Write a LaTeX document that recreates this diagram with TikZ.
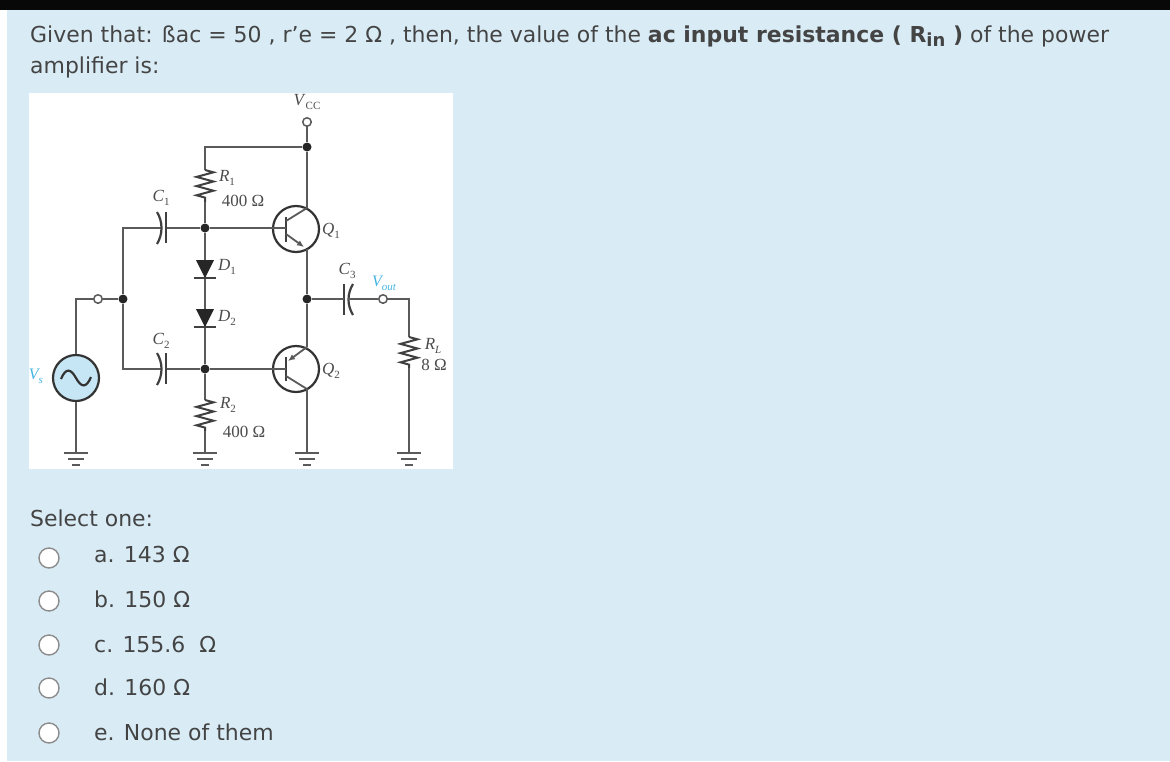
\documentclass[tikz,border=0pt]{standalone}
\usepackage{fontspec}
\setmainfont{DejaVu Sans}
\newfontfamily\cirfont{Liberation Serif}
\usetikzlibrary{arrows.meta,decorations.pathmorphing}
\definecolor{pagebg}{HTML}{D9ECF6}
\definecolor{txtgray}{HTML}{444444}
\definecolor{wiregray}{HTML}{5A5A5A}
\definecolor{srcblue}{HTML}{C6E5F5}
\definecolor{lblblue}{HTML}{45B4E0}
\newcommand\lowsub[1]{\raisebox{-.25em}{\fontsize{11}{12}\selectfont #1}}
\tikzset{
	wire/.style={draw=wiregray,line width=1.8pt},
	heavy/.style={draw=black!75,line width=2.2pt},
	resistor/.style={draw=black!75,line width=2pt,decorate,decoration={zigzag,segment length=9.2pt,amplitude=8.5pt}},
	dotnode/.style={circle,fill=black!85,inner sep=0pt,minimum size=9pt},
	opennode/.style={circle,draw=wiregray,fill=white,line width=1.5pt,inner sep=0pt,minimum size=8.5pt},
	trans/.style={circle,draw=black!80,line width=2.2pt,inner sep=0pt,minimum size=46pt},
	radio/.style={circle,draw=black!45,fill=white,line width=1.4pt,inner sep=0pt,minimum size=20pt},
	txt/.style={anchor=base west,text=txtgray,font=\fontsize{21.95}{26}\selectfont,inner sep=0pt},
	lab/.style={text=black!70,font=\fontsize{17}{20}\selectfont\cirfont,inner sep=0pt},
	vlab/.style={text=lblblue,font=\fontsize{16}{18}\selectfont\cirfont\itshape,inner sep=0pt},
	grnd/.pic={\draw[wire,line width=2.2pt] (-12,0) -- (12,0) (-8,6) -- (8,6) (-4,12) -- (4,12);},
	diode/.pic={\fill[black!85] (-9,-9) -- (9,-9) -- (0,9) -- cycle; \draw[heavy] (-11,9) -- (11,9);}
}
\begin{document}
\begin{tikzpicture}[x=1pt,y=-1pt]
	% page
	\fill [white] ( 0, 0 ) rectangle ( 1170, 761 );
	\fill [pagebg] ( 6.5, 10 ) rectangle ( 1170, 761 );
	\fill [black!97] ( 0, 0 ) rectangle ( 1170, 10 );
	\fill [white] ( 29, 93 ) rectangle ( 453, 469 );

	% question
	\node [txt] (line1) at ( 30, 42 ) {Given that: ßac = 50 , r'e = 2 Ω , then, the value of the \textbf{ac input resistance ( R\raisebox{-4pt}{\fontsize{18}{20}\selectfont in} )} of the power};
	\node [txt] (line2) at ( 30, 73 ) {amplifier is:};

	% junctions
	\node [dotnode] (top) at ( 307, 147 ) {};
	\node [dotnode] (base1) at ( 205, 228 ) {};
	\node [dotnode] (base2) at ( 205, 369 ) {};
	\node [dotnode] (in) at ( 123, 299 ) {};
	\node [dotnode] (out) at ( 307, 299 ) {};
	\node [opennode] (vcc) at ( 307, 122 ) {};
	\node [opennode] (vin) at ( 98, 299 ) {};
	\node [opennode] (vout) at ( 383, 299 ) {};

	% source
	\node [circle,draw=black!80,fill=srcblue,line width=2.2pt,inner sep=0pt,minimum size=46pt] (src) at ( 76, 378 ) {};
	\draw [black!80,line width=2.2pt] ( 61, 379 ) .. controls ( 66, 367 ) and ( 71, 369 ) .. ( 76, 378 ) .. controls ( 81, 387 ) and ( 86, 389 ) .. ( 91, 377 );
	\coordinate (cornerin) at ( 76, 299 );
	\coordinate (g1) at ( 76, 453 );
	\draw [wire] (src) -- (cornerin) -- (vin) -- (in);
	\draw [wire] (src) -- (g1);
	\pic at (g1) {grnd};

	% transistors
	\node [trans] (Q1) at ( 296, 229 ) {};
	\node [trans] (Q2) at ( 296, 369 ) {};
	\coordinate (Q1b) at ( 286, 228 );
	\coordinate (Q1c) at ( 307, 208 );
	\coordinate (Q1e) at ( 307, 249 );
	\coordinate (Q2b) at ( 286, 369 );
	\coordinate (Q2e) at ( 307, 347 );
	\coordinate (Q2c) at ( 307, 389 );
	\draw [heavy] ( 286, 217 ) -- ( 286, 242 );
	\draw [heavy] ( 286, 357 ) -- ( 286, 381 );
	\draw [wire] ( 286, 221 ) -- (Q1c);
	\draw [wire,-{Latex[length=7pt,width=6pt]}] ( 286, 234 ) -- ( 304, 247 );
	\draw [wire,{Latex[length=7pt,width=6pt]}-] ( 288, 361 ) -- (Q2e);
	\draw [wire] ( 286, 376 ) -- (Q2c);

	% supply rail and output leg
	\coordinate (g3) at ( 307, 453 );
	\draw [wire] (vcc) -- (top) -- (Q1c);
	\draw [wire] (Q1e) -- (out) -- (Q2e);
	\draw [wire] (Q2c) -- (g3);
	\pic at (g3) {grnd};

	% bias chain
	\coordinate (cornerR) at ( 205, 147 );
	\coordinate (R1t) at ( 205, 170 );
	\coordinate (R1b) at ( 205, 202 );
	\coordinate (R2t) at ( 205, 400 );
	\coordinate (R2b) at ( 205, 431 );
	\coordinate (D1t) at ( 205, 269 );
	\coordinate (D2t) at ( 205, 318 );
	\coordinate (g2) at ( 205, 453 );
	\draw [wire] (top) -- (cornerR) -- (R1t);
	\draw [resistor] (R1t) -- (R1b);
	\draw [wire] (R1b) -- (base1) -- (base2) -- (R2t);
	\draw [resistor] (R2t) -- (R2b);
	\draw [wire] (R2b) -- (g2);
	\pic at (g2) {grnd};
	\pic at (D1t) {diode};
	\pic at (D2t) {diode};
	\draw [wire] (base1) -- (Q1b);
	\draw [wire] (base2) -- (Q2b);

	% capacitors
	\coordinate (C1l) at ( 161, 228 );
	\coordinate (C1r) at ( 166, 228 );
	\coordinate (C2l) at ( 161, 369 );
	\coordinate (C2r) at ( 166, 369 );
	\coordinate (C3l) at ( 344, 299 );
	\coordinate (C3r) at ( 348, 299 );
	\coordinate (cornerC1) at ( 123, 228 );
	\coordinate (cornerC2) at ( 123, 369 );
	\draw [wire] (in) -- (cornerC1) -- (C1l);
	\draw [wire] (in) -- (cornerC2) -- (C2l);
	\draw [wire] (C1r) -- (base1);
	\draw [wire] (C2r) -- (base2);
	\draw [heavy] ( 157, 212 ) .. controls ( 163, 222 ) and ( 163, 234 ) .. ( 157, 244 );
	\draw [heavy] ( 166, 212 ) -- ( 166, 243 );
	\draw [heavy] ( 157, 353 ) .. controls ( 163, 363 ) and ( 163, 375 ) .. ( 157, 385 );
	\draw [heavy] ( 166, 353 ) -- ( 166, 384 );
	\draw [heavy] ( 344, 284 ) -- ( 344, 315 );
	\draw [heavy] ( 353, 284 ) .. controls ( 347, 294 ) and ( 347, 305 ) .. ( 353, 315 );
	\draw [wire] (out) -- (C3l);
	\draw [wire] (C3r) -- (vout);

	% load
	\coordinate (cornerL) at ( 409, 299 );
	\coordinate (RLt) at ( 409, 337 );
	\coordinate (RLb) at ( 409, 368 );
	\coordinate (g4) at ( 409, 453 );
	\draw [wire] (vout) -- (cornerL) -- (RLt);
	\draw [resistor] (RLt) -- (RLb);
	\draw [wire] (RLb) -- (g4);
	\pic at (g4) {grnd};

	% circuit labels
	\node [lab] (labVcc) at ( 307, 102 ) {\textit{V}\lowsub{CC}};
	\node [lab] (labR1) at ( 227, 178 ) {\textit{R}\lowsub{1}};
	\node [lab] (valR1) at ( 243, 201 ) {400 Ω};
	\node [lab] (labC1) at ( 161, 198 ) {\textit{C}\lowsub{1}};
	\node [lab] (labD1) at ( 227, 267 ) {\textit{D}\lowsub{1}};
	\node [lab] (labD2) at ( 227, 318 ) {\textit{D}\lowsub{2}};
	\node [lab] (labC2) at ( 161, 341 ) {\textit{C}\lowsub{2}};
	\node [lab] (labQ1) at ( 331, 231 ) {\textit{Q}\lowsub{1}};
	\node [lab] (labQ2) at ( 331, 371 ) {\textit{Q}\lowsub{2}};
	\node [lab] (labC3) at ( 347, 271 ) {\textit{C}\lowsub{3}};
	\node [lab] (labRL) at ( 433, 346 ) {\textit{R}\lowsub{\textit{L}}};
	\node [lab] (valRL) at ( 434, 365 ) {8 Ω};
	\node [lab] (labR2) at ( 228, 405 ) {\textit{R}\lowsub{2}};
	\node [lab] (valR2) at ( 244, 432 ) {400 Ω};
	\node [vlab] (labVs) at ( 36, 376 ) {V\lowsub{s}};
	\node [vlab] (labVout) at ( 384, 283 ) {V\lowsub{out}};

	% answers
	\node [txt] (select) at ( 30, 526 ) {Select one:};
	\node [radio] (ra) at ( 49, 558 ) {};
	\node [radio] (rb) at ( 49, 601 ) {};
	\node [radio] (rc) at ( 49, 645 ) {};
	\node [radio] (rd) at ( 49, 688 ) {};
	\node [radio] (re) at ( 49, 733 ) {};
	\node [txt] (ansa) at ( 94, 562 ) {a. 143 Ω};
	\node [txt] (ansb) at ( 94, 607 ) {b. 150 Ω};
	\node [txt] (ansc) at ( 94, 652 ) {c. 155.6~ Ω};
	\node [txt] (ansd) at ( 94, 695 ) {d. 160 Ω};
	\node [txt] (anse) at ( 94, 740 ) {e. None of them};
\end{tikzpicture}
\end{document}
